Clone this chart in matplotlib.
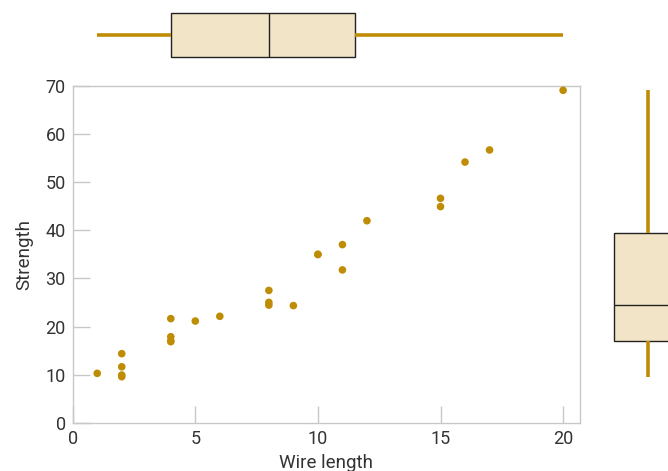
import numpy as np
import matplotlib
matplotlib.use("Agg")
import matplotlib.pyplot as plt

# Wire bond pull test: wire length vs. pull strength
wire_length = [2, 8, 11, 10, 8, 4, 2, 2, 9, 8, 4, 11, 12, 2, 4, 4, 20, 1, 10, 15, 15, 16, 17, 6, 5]
strength = [9.95, 24.45, 31.75, 35.00, 25.02, 16.86, 14.38, 9.60, 24.35, 27.50, 17.08, 37.00,
            41.95, 11.66, 21.65, 17.89, 69.00, 10.30, 34.93, 46.59, 44.88, 54.12, 56.63, 22.13, 21.15]

x_ticks = [0, 5, 10, 15, 20]
y_ticks = [0, 10, 20, 30, 40, 50, 60, 70]

GOLD = "#BF8C06"
BOX_FILL = "#F2E4C6"
EDGE = "#222222"
GRID = "#C8C8C8"
TEXT = "#333333"

plt.rcParams["font.family"] = ["Roboto", "DejaVu Sans"]

W, H = 668, 471
fig = plt.figure(figsize=(W / 100, H / 100), dpi=100)


def stats(values):
    v = np.asarray(values, dtype=float)
    q1, med, q3 = np.percentile(v, [25, 50, 75], method="weibull")
    return dict(med=med, q1=q1, q3=q3, whislo=v.min(), whishi=v.max(), fliers=[])


def draw_box(ax, values, pos, width, vert):
    ax.bxp([stats(values)], positions=[pos], widths=[width], vert=vert,
           patch_artist=True, showcaps=False, showfliers=False,
           boxprops=dict(facecolor=BOX_FILL, edgecolor=EDGE, linewidth=1.0),
           medianprops=dict(color=EDGE, linewidth=1.0),
           whiskerprops=dict(color=GOLD, linewidth=2.6, solid_capstyle="butt"))


# main scatter panel (pixel geometry)
left, right, top, bottom = 72.7, 580, 85.5, 423
xmax = (right - left) / 24.52
ax = fig.add_axes([left / W, (H - bottom) / H, (right - left) / W, (bottom - top) / H])
ax.scatter(wire_length, strength, s=30, color=GOLD, edgecolors="none", zorder=3)
ax.set_xlim(0, xmax)
ax.set_ylim(0, 70)
ax.set_xticks(x_ticks)
ax.set_yticks(y_ticks)
ax.tick_params(direction="in", length=12, width=1, color=GRID, labelsize=13,
               labelcolor=TEXT, pad=5)
for s in ax.spines.values():
    s.set_color(GRID)
    s.set_linewidth(1)
ax.set_xlabel("Wire length", fontsize=13.5, color=TEXT, labelpad=4)
ax.set_ylabel("Strength", fontsize=13.5, color=TEXT, labelpad=9)

# marginal box plot of wire length (top)
axt = fig.add_axes([left / W, (H - 70) / H, (right - left) / W, 70 / H])
draw_box(axt, wire_length, 35, 44, vert=False)
axt.set_xlim(0, xmax)
axt.set_ylim(70, 0)
axt.axis("off")

# marginal box plot of strength (right)
axr = fig.add_axes([right / W, (H - bottom) / H, (W - right) / W, (bottom - top) / H])
draw_box(axr, strength, 67.5, 67, vert=True)
axr.set_xlim(0, W - right)
axr.set_ylim(0, 70)
axr.axis("off")

fig.savefig("out.png", dpi=100)
